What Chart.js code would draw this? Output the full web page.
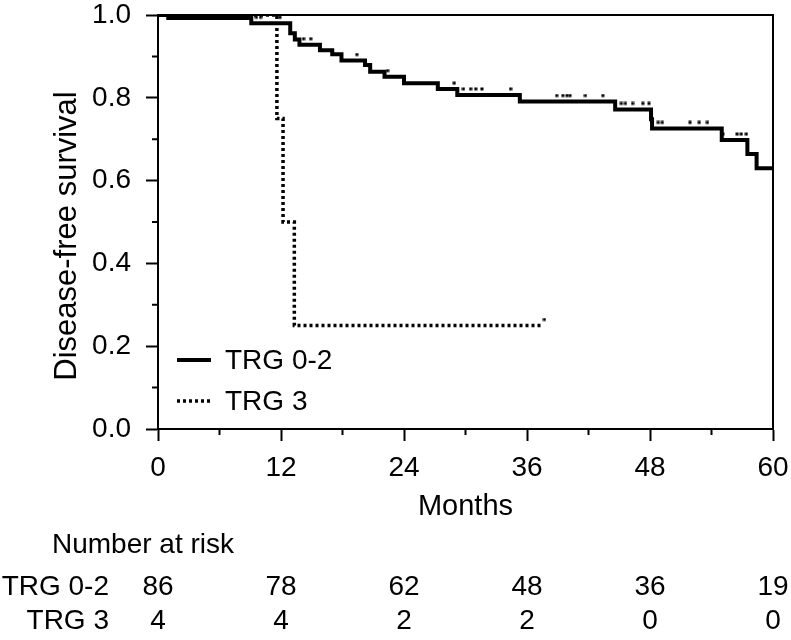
<!DOCTYPE html>
<html>
<head>
<meta charset="utf-8">
<script src="https://cdn.jsdelivr.net/npm/chart.js@4/dist/chart.umd.min.js"></script>
<style>
  html, body { margin: 0; padding: 0; background: #fff; }
  canvas { display: block; }
</style>
</head>
<body>
<canvas id="km" width="791" height="640"></canvas>
<script>
const FONT = "'Liberation Sans', Arial, Helvetica, sans-serif";

// TRG 0-2: month of each step and survival after it
const trg02Months = [0, 1.0, 9.1, 12.9, 13.35, 13.8, 15.8, 17.0, 17.9, 20.2, 20.7, 22.1, 24.0, 27.3, 29.2, 35.3, 44.6, 48.1, 48.2, 55.0, 57.5, 58.4, 60];
const trg02Surv = [1.0, 0.993, 0.980, 0.956, 0.941, 0.928, 0.915, 0.905, 0.890, 0.879, 0.863, 0.851, 0.835, 0.821, 0.807, 0.791, 0.772, 0.748, 0.726, 0.698, 0.664, 0.630, 0.630];
const trg02CensorMonths = [9.6, 10.0, 11.9, 14.2, 14.9, 19.4, 22.4, 28.9, 29.8, 30.5, 31.0, 31.6, 34.4, 38.9, 39.5, 39.9, 40.2, 41.7, 43.4, 45.2, 45.6, 46.3, 47.3, 47.9, 48.8, 49.2, 51.9, 52.8, 53.6, 55.1, 56.5, 56.9, 57.4];
const trg02CensorSurv = [0.980, 0.980, 0.980, 0.928, 0.928, 0.890, 0.851, 0.821, 0.807, 0.807, 0.807, 0.807, 0.807, 0.791, 0.791, 0.791, 0.791, 0.791, 0.791, 0.772, 0.772, 0.772, 0.772, 0.772, 0.726, 0.726, 0.726, 0.726, 0.726, 0.698, 0.698, 0.698, 0.698];

// TRG 3
const trg3Months = [0, 11.6, 12.2, 13.3, 37.4];
const trg3Surv = [1.0, 0.75, 0.50, 0.25, 0.25];
const trg3CensorMonths = [37.7];
const trg3CensorSurv = [0.25];

// number at risk table
const riskMonths = [0, 12, 24, 36, 48, 60];
const riskTrg02 = [86, 78, 62, 48, 36, 19];
const riskTrg3 = [4, 4, 2, 2, 0, 0];

const xMinorTicks = [6, 18, 30, 42, 54];
const yMinorTicks = [0.1, 0.3, 0.5, 0.7, 0.9];

const toPoints = (xs, ys) => xs.map((x, i) => ({ x: x, y: ys[i] }));

// censor mark: small square sitting just above the curve
const censorMark = document.createElement('canvas');
censorMark.width = 4;
censorMark.height = 16;
const cm = censorMark.getContext('2d');
cm.fillStyle = '#000';
cm.fillRect(0.5, 0.5, 3, 3);

const frameAndMinor = {
  id: 'frameAndMinor',
  afterDraw(chart) {
    const { ctx, chartArea, scales } = chart;
    ctx.save();
    ctx.strokeStyle = '#000';
    ctx.lineWidth = 2;
    ctx.beginPath();
    xMinorTicks.forEach(v => {
      const px = scales.x.getPixelForValue(v);
      ctx.moveTo(px, chartArea.bottom);
      ctx.lineTo(px, chartArea.bottom + 6);
    });
    yMinorTicks.forEach(v => {
      const py = scales.y.getPixelForValue(v);
      ctx.moveTo(chartArea.left, py);
      ctx.lineTo(chartArea.left - 6, py);
    });
    // top and right side of the box
    ctx.moveTo(chartArea.left, chartArea.top);
    ctx.lineTo(chartArea.right, chartArea.top);
    ctx.lineTo(chartArea.right, chartArea.bottom);
    ctx.stroke();

    // y axis title, sits a little below the middle of the axis
    ctx.font = '31px ' + FONT;
    ctx.fillStyle = '#000';
    ctx.textAlign = 'center';
    ctx.textBaseline = 'middle';
    ctx.translate(67, 236);
    ctx.rotate(-Math.PI / 2);
    ctx.fillText('Disease-free survival', 0, 0);
    ctx.restore();
  }
};

const kmLegend = {
  id: 'kmLegend',
  afterDraw(chart) {
    const { ctx, chartArea } = chart;
    const rows = [chart.data.datasets[0], chart.data.datasets[1]];
    ctx.save();
    ctx.font = '28px ' + FONT;
    ctx.fillStyle = '#000';
    ctx.textBaseline = 'middle';
    rows.forEach((ds, i) => {
      const y = 360 + i * 41;
      ctx.beginPath();
      ctx.strokeStyle = '#000';
      ctx.lineWidth = ds.borderWidth;
      ctx.setLineDash(ds.borderDash || []);
      ctx.moveTo(chartArea.left + 19, y);
      ctx.lineTo(chartArea.left + 53, y);
      ctx.stroke();
      ctx.setLineDash([]);
      ctx.fillText(ds.label, chartArea.left + 67, y + 1);
    });
    ctx.restore();
  }
};

const riskTable = {
  id: 'riskTable',
  afterDraw(chart) {
    const { ctx, scales } = chart;
    ctx.save();
    ctx.font = '28px ' + FONT;
    ctx.fillStyle = '#000';
    ctx.textBaseline = 'middle';
    ctx.textAlign = 'left';
    ctx.fillText('Number at risk', 52, 545);
    ctx.textAlign = 'right';
    ctx.fillText('TRG 0-2', 109, 587);
    ctx.fillText('TRG 3', 109, 621);
    ctx.textAlign = 'center';
    riskMonths.forEach((m, i) => {
      const px = scales.x.getPixelForValue(m);
      ctx.fillText(String(riskTrg02[i]), px, 587);
      ctx.fillText(String(riskTrg3[i]), px, 621);
    });
    ctx.restore();
  }
};

Chart.defaults.color = '#000';
Chart.defaults.font.family = FONT;

new Chart(document.getElementById('km'), {
  type: 'line',
  data: {
    datasets: [
      {
        label: 'TRG 0-2',
        data: toPoints(trg02Months, trg02Surv),
        stepped: true,
        borderColor: '#000',
        borderWidth: 4,
        pointRadius: 0,
        fill: false
      },
      {
        label: 'TRG 3',
        data: toPoints(trg3Months, trg3Surv),
        stepped: true,
        borderColor: '#000',
        borderWidth: 3.5,
        borderDash: [3, 3],
        borderCapStyle: 'butt',
        pointRadius: 0,
        fill: false
      },
      {
        label: 'censored 0-2',
        data: toPoints(trg02CensorMonths, trg02CensorSurv),
        showLine: false,
        pointStyle: censorMark,
        pointRadius: 2,
        clip: false
      },
      {
        label: 'censored 3',
        data: toPoints(trg3CensorMonths, trg3CensorSurv),
        showLine: false,
        pointStyle: censorMark,
        pointRadius: 2,
        clip: false
      }
    ]
  },
  options: {
    responsive: false,
    animation: false,
    devicePixelRatio: 1,
    layout: { padding: { left: 0, top: 15, right: 18, bottom: 116 } },
    plugins: {
      legend: { display: false },
      tooltip: { enabled: false }
    },
    scales: {
      x: {
        type: 'linear',
        min: 0,
        max: 60,
        afterFit: scale => {
          scale.height = 95;
          scale.paddingLeft = 0;
          scale.paddingRight = 0;
        },
        border: { color: '#000', width: 2 },
        grid: { drawOnChartArea: false, tickLength: 12, tickColor: '#000', tickWidth: 2 },
        ticks: { stepSize: 12, padding: 10, font: { size: 28 }, maxRotation: 0 },
        title: { display: true, text: 'Months', font: { size: 29 }, padding: { top: 0, bottom: 0 } }
      },
      y: {
        min: 0,
        max: 1,
        afterFit: scale => {
          scale.width = 158;
          scale.paddingTop = 0;
          scale.paddingBottom = 0;
        },
        border: { color: '#000', width: 2 },
        grid: { drawOnChartArea: false, tickLength: 12, tickColor: '#000', tickWidth: 2 },
        ticks: { stepSize: 0.2, padding: 15, font: { size: 28 }, callback: v => v.toFixed(1) }
      }
    }
  },
  plugins: [frameAndMinor, kmLegend, riskTable]
});
</script>
</body>
</html>
